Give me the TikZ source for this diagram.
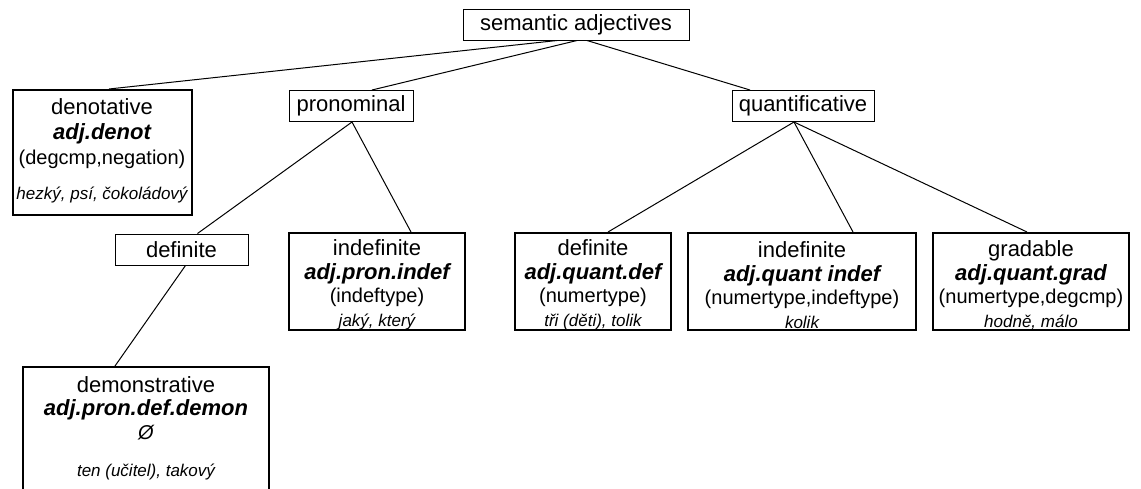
\documentclass[tikz,border=0pt]{standalone}
\usepackage{fontspec}
\setmainfont{Liberation Sans}
\begin{document}
\begin{tikzpicture}[x=1pt,y=-1pt]
\tikzset{
  cat/.style={draw, line width=1pt, inner sep=0pt, minimum height=31pt, font=\fontsize{22}{24}\selectfont},
  leaf/.style={draw, line width=2pt, inner sep=0pt},
  txt/.style={inner sep=0pt, align=center, font=\fontsize{22}{23.5}\selectfont},
  conn/.style={line width=1pt}
}
\newcommand{\exf}{\fontsize{17}{20}\selectfont\itshape}
\newcommand{\pmf}{\fontsize{20}{22}\selectfont}
\newcommand{\bif}{\bfseries\itshape}
\useasboundingbox (0,0) rectangle (1141,488);
\clip (0,0) rectangle (1141,488);
\node[cat, minimum width=226pt] (sem) at (576,24.5) {semantic adjectives};
\node[cat, minimum width=124pt] (pron) at (351,106) {pronominal};
\node[cat, minimum width=142pt] (quant) at (803,106) {quantificative};
\node[cat, minimum width=133pt] (def) at (181.5,249.5) {definite};
\node[leaf, minimum width=179pt, minimum height=125pt] (den) at (102,152.5) {};
\node[leaf, minimum width=176pt, minimum height=97pt] (pind) at (377,281.5) {};
\node[leaf, minimum width=156pt, minimum height=97pt] (qdef) at (593,281.5) {};
\node[leaf, minimum width=228pt, minimum height=97pt] (qind) at (802,281.5) {};
\node[leaf, minimum width=196pt, minimum height=97pt] (grad) at (1031,281.5) {};
\node[leaf, minimum width=246pt, minimum height=132pt] (dem) at (146,433) {};
\node[txt, font=\fontsize{22}{25}\selectfont] (denT) at ([yshift=2pt]den.center)
  {denotative\\{\bif adj.denot}\\{\pmf (degcmp,negation)}\\[10pt]{\exf hezký, psí, čokoládový}};
\node[txt] (pindT) at ([yshift=-3.5pt]pind.center)
  {indefinite\\{\bif adj.pron.indef}\\{\pmf (indeftype)}\\{\exf jaký, který}};
\node[txt] (qdefT) at ([yshift=-3.5pt]qdef.center)
  {definite\\{\bif adj.quant.def}\\{\pmf (numertype)}\\{\exf tři (děti), tolik}};
\node[txt] (qindT) at ([yshift=-3.5pt]qind.center)
  {indefinite\\{\bif adj.quant indef}\\{\pmf (numertype,indeftype)}\\{\exf kolik}};
\node[txt] (gradT) at ([yshift=-3.5pt]grad.center)
  {gradable\\{\bif adj.quant.grad}\\{\pmf (numertype,degcmp)}\\{\exf hodně, málo}};
\node[txt] (demT) at ([yshift=4.5pt]dem.center)
  {demonstrative\\{\bif adj.pron.def.demon}\\{\pmf\itshape Ø}\\[14pt]{\exf ten (učitel), takový}};
\draw[conn] ([xshift=-19pt]sem.south) -- ([xshift=7pt]den.north);
\draw[conn] ([xshift=1pt]sem.south) -- ([xshift=21pt]pron.north);
\draw[conn] ([xshift=11pt]sem.south) -- ([xshift=-53pt]quant.north);
\draw[conn] ([xshift=1pt]pron.south) -- ([xshift=16pt]def.north);
\draw[conn] ([xshift=1pt]pron.south) -- ([xshift=34pt]pind.north);
\draw[conn] ([xshift=4pt]def.south) -- ([xshift=-31pt]dem.north);
\draw[conn] ([xshift=-9pt]quant.south) -- ([xshift=15pt]qdef.north);
\draw[conn] ([xshift=-9pt]quant.south) -- ([xshift=51pt]qind.north);
\draw[conn] ([xshift=-9pt]quant.south) -- ([xshift=-4pt]grad.north);
\end{tikzpicture}
\end{document}
